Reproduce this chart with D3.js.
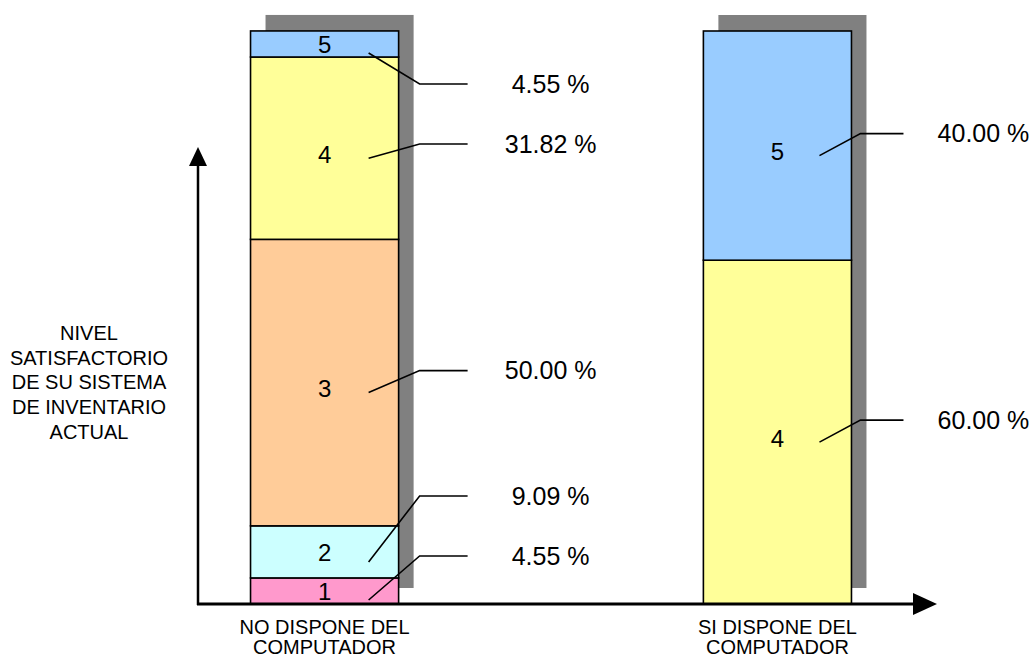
<!DOCTYPE html>
<html>
<head>
<meta charset="utf-8">
<script src="https://cdn.jsdelivr.net/npm/d3@7"></script>
<style>
  html, body { margin: 0; padding: 0; background: #ffffff; }
  svg { display: block; font-family: "Liberation Sans", Arial, sans-serif; }
</style>
</head>
<body>
<svg id="chart" width="1034" height="658"></svg>
<script>
// Satisfaction level of the current inventory system, by computer availability
const categories = ["NO DISPONE DEL COMPUTADOR", "SI DISPONE DEL COMPUTADOR"];
const categoryLines = [["NO DISPONE DEL", "COMPUTADOR"], ["SI DISPONE DEL", "COMPUTADOR"]];
const levels = ["1", "2", "3", "4", "5"];
const noDispone = [4.55, 9.09, 50.00, 31.82, 4.55];   // % per level
const siDispone = [0, 0, 0, 60.00, 40.00];            // % per level
const yTitleLines = ["NIVEL", "SATISFACTORIO", "DE SU SISTEMA", "DE INVENTARIO", "ACTUAL"];

const levelColors = ["#ff99cc", "#ccffff", "#ffcc99", "#ffff99", "#99ccff"];

const svg = d3.select("#chart");
const defs = svg.append("defs");
const originX = 198, originY = 604;

const x = d3.scaleBand().domain(categories).range([198, 904]).paddingInner(0.673).paddingOuter(0.116);
const y = d3.scaleLinear().domain([0, 100]).range([originY, 31]);

// stack each category's levels bottom-up
const seriesByCat = [noDispone, siDispone];
const groups = categories.map((cat, ci) => {
  let acc = 0;
  const segs = [];
  seriesByCat[ci].forEach((v, li) => {
    if (v > 0) segs.push({ cat, ci, level: levels[li], li, v, y0: acc, y1: acc + v });
    acc += v;
  });
  return { cat, ci, segs, total: acc };
});

// leader geometry per category (offsets from the bar's right edge)
const leader = [{ start: -30, elbow: 21, end: 69, text: 83 }, { start: -32, elbow: 9, end: 52, text: 80 }];

const shadowDx = 15, shadowDy = -16;

// drop shadow behind each whole bar
svg.append("g").selectAll("rect").data(groups).join("rect")
  .attr("x", g => x(g.cat) + shadowDx)
  .attr("y", g => y(g.total) + shadowDy)
  .attr("width", x.bandwidth())
  .attr("height", g => y(0) - y(g.total))
  .attr("fill", "#808080");

// bar segments
groups.forEach(g => {
  g.segs.forEach((d, i) => {
    defs.append("clipPath").attr("id", `seg-${g.ci}-${i}`)
      .append("rect")
      .attr("x", x(g.cat))
      .attr("y", y(d.y1))
      .attr("width", x.bandwidth())
      .attr("height", y(d.y0) - y(d.y1));
  });

  svg.append("g").selectAll("rect").data(g.segs).join("rect")
    .attr("x", x(g.cat))
    .attr("y", d => y(d.y1))
    .attr("width", x.bandwidth())
    .attr("height", d => y(d.y0) - y(d.y1))
    .attr("fill", d => levelColors[d.li])
    .attr("stroke", "#000")
    .attr("stroke-width", 1.6);

  svg.append("g").selectAll("text").data(g.segs).join("text")
    .attr("clip-path", (d, i) => `url(#seg-${g.ci}-${i})`)
    .attr("x", x(g.cat) + x.bandwidth() / 2)
    .attr("y", d => (y(d.y0) + y(d.y1)) / 2 + ((y(d.y0) - y(d.y1)) > 60 ? 6 : 1))
    .attr("dy", "0.35em")
    .attr("text-anchor", "middle")
    .attr("font-size", 24)
    .attr("fill", "#000")
    .text(d => d.level);
});

// value labels with leader lines; label rows are spread to avoid overlap
groups.forEach(g => {
  const L = leader[g.ci];
  const right = x(g.cat) + x.bandwidth();
  const items = g.segs.map(d => {
    const top = y(d.y1), bot = y(d.y0), mid = (top + bot) / 2;
    return {
      d,
      sy: Math.max(top + 4, Math.min(bot - 4, mid + 10)),
      ly: Math.max(84, Math.min(556, mid - 12))
    };
  });
  const gap = 60;
  for (let i = 1; i < items.length; i++) items[i].ly = Math.min(items[i].ly, items[i - 1].ly - gap);
  for (let i = items.length - 1; i >= 0; i--) items[i].ly = Math.max(items[i].ly, 84);
  for (let i = items.length - 2; i >= 0; i--) items[i].ly = Math.max(items[i].ly, items[i + 1].ly + gap);

  const lg = svg.append("g");
  lg.selectAll("polyline").data(items).join("polyline")
    .attr("points", it => [[right + L.start, it.sy], [right + L.elbow, it.ly], [right + L.end, it.ly]].join(" "))
    .attr("fill", "none")
    .attr("stroke", "#000")
    .attr("stroke-width", 1.6);
  lg.selectAll("text").data(items).join("text")
    .attr("x", right + L.end + L.text)
    .attr("y", it => it.ly)
    .attr("dy", "0.35em")
    .attr("text-anchor", "middle")
    .attr("font-size", 25)
    .attr("fill", "#000")
    .text(it => d3.format(".2f")(it.d.v) + " %");
});

// axes with arrowheads
svg.append("line").attr("x1", originX).attr("y1", originY + 1).attr("x2", originX).attr("y2", 164)
  .attr("stroke", "#000").attr("stroke-width", 2.5);
svg.append("path").attr("d", `M${originX - 9},166 L${originX},147 L${originX + 9},166 Z`).attr("fill", "#000");
svg.append("line").attr("x1", originX - 1).attr("y1", originY).attr("x2", 915).attr("y2", originY)
  .attr("stroke", "#000").attr("stroke-width", 3);
svg.append("path").attr("d", `M913,${originY - 11} L937,${originY} L913,${originY + 11} Z`).attr("fill", "#000");

// category labels
categories.forEach((cat, ci) => {
  svg.append("text")
    .attr("x", x(cat) + x.bandwidth() / 2)
    .attr("y", 627)
    .attr("text-anchor", "middle")
    .attr("font-size", 20)
    .attr("fill", "#000")
    .selectAll("tspan").data(categoryLines[ci]).join("tspan")
    .attr("x", x(cat) + x.bandwidth() / 2)
    .attr("dy", (d, i) => i === 0 ? "0.35em" : "20px")
    .text(d => d);
});

// vertical axis title
svg.append("text")
  .attr("x", 89).attr("y", 333)
  .attr("text-anchor", "middle")
  .attr("font-size", 20)
  .attr("fill", "#000")
  .selectAll("tspan").data(yTitleLines).join("tspan")
  .attr("x", 89)
  .attr("dy", (d, i) => i === 0 ? "0.35em" : "24.7px")
  .text(d => d);
</script>
</body>
</html>
